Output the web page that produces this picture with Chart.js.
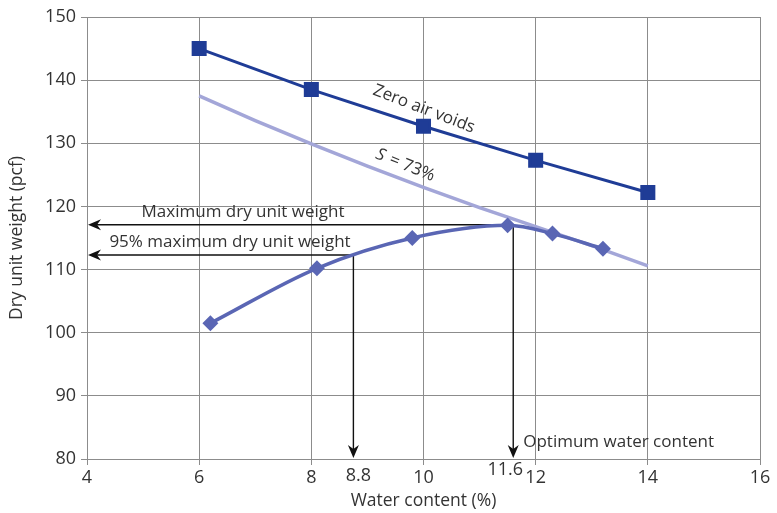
<!DOCTYPE html>
<html>
<head>
<meta charset="utf-8">
<script src="https://cdn.jsdelivr.net/npm/chart.js@4.4.1/dist/chart.umd.min.js"></script>
<style>
  html, body { margin: 0; padding: 0; background: #fff; }
  #wrap { width: 777px; height: 513px; }
</style>
</head>
<body>
<div id="wrap"><canvas id="compactionChart" width="777" height="513"></canvas></div>
<script>
// values
const zeroAirWater = [6, 8, 10, 12, 14];
const zeroAirWeight = [145.0, 138.5, 132.7, 127.3, 122.2];

const satWater = [6, 7, 8, 9, 10, 11, 12, 13, 14];
const satWeight = [137.5, 133.6, 129.9, 126.4, 123.0, 119.8, 116.8, 113.8, 110.6];

const testWater = [6.2, 8.1, 9.8, 11.5, 12.3, 13.2];
const testWeight = [101.5, 110.2, 115.0, 117.0, 115.7, 113.3];

const maxDryWeight = 117.1;
const optimumWater = 11.6;
const dry95Weight = 112.3;
const dry95Water = 8.75;

const xTicks = [4, 6, 8, 10, 12, 14, 16];
const yTicks = [80, 90, 100, 110, 120, 130, 140, 150];

const toPoints = (xs, ys) => xs.map((x, i) => ({ x: x, y: ys[i] }));

const FONT = '"Open Sans", "DejaVu Sans", sans-serif';
const TEXT = '#333333';

function arrowHead(ctx, x, y, dir) {
  // notched arrow tip at (x,y) pointing 'left' or 'down'
  ctx.save();
  ctx.translate(x, y);
  if (dir === 'down') ctx.rotate(-Math.PI / 2);
  ctx.beginPath();
  ctx.moveTo(0, 0);
  ctx.lineTo(13, -5.5);
  ctx.lineTo(9, 0);
  ctx.lineTo(13, 5.5);
  ctx.closePath();
  ctx.fillStyle = '#111';
  ctx.fill();
  ctx.restore();
}

const annotations = {
  id: 'annotations',
  beforeDatasetsDraw(chart) {
    const { ctx, scales: { x, y } } = chart;
    ctx.save();
    ctx.strokeStyle = '#111';
    ctx.lineWidth = 1.4;
    const pairs = [[optimumWater, maxDryWeight], [dry95Water, dry95Weight]];
    pairs.forEach(([w, g]) => {
      const px = x.getPixelForValue(w);
      const py = y.getPixelForValue(g);
      ctx.beginPath();
      ctx.moveTo(x.left + 6, py);
      ctx.lineTo(px, py);
      ctx.lineTo(px, y.bottom - 6);
      ctx.stroke();
      arrowHead(ctx, x.left + 1, py, 'left');
      arrowHead(ctx, px, y.bottom - 1, 'down');
    });
    ctx.restore();
  },
  afterDraw(chart) {
    const { ctx, scales: { x, y } } = chart;
    ctx.save();
    ctx.fillStyle = TEXT;
    ctx.textBaseline = 'middle';
    ctx.font = '17px ' + FONT;

    ctx.textAlign = 'center';
    ctx.fillText('Maximum dry unit weight', 243, y.getPixelForValue(maxDryWeight) - 13);
    ctx.fillText('95% maximum dry unit weight', 230, y.getPixelForValue(dry95Weight) - 13);

    ctx.textAlign = 'left';
    ctx.fillText('Optimum water content', x.getPixelForValue(optimumWater) + 10, y.bottom - 17);

    // special tick labels
    ctx.font = '18px ' + FONT;
    ctx.textAlign = 'center';
    ctx.fillText('8.8', x.getPixelForValue(dry95Water) + 5, 476);
    ctx.fillText('11.6', x.getPixelForValue(optimumWater) - 8, 470);

    // curve labels
    ctx.font = '17px ' + FONT;
    ctx.save();
    ctx.translate(424, 109);
    ctx.rotate(21 * Math.PI / 180);
    ctx.fillText('Zero air voids', 0, 0);
    ctx.restore();

    ctx.save();
    ctx.translate(410, 167);
    ctx.rotate(22 * Math.PI / 180);
    ctx.font = 'italic 17px ' + FONT;
    ctx.textAlign = 'left';
    ctx.fillText('S', -36, 0);
    ctx.font = '17px ' + FONT;
    ctx.fillText(' = 73%', -26, 0);
    ctx.restore();

    ctx.restore();
  }
};

new Chart(document.getElementById('compactionChart'), {
  type: 'scatter',
  data: {
    datasets: [
      {
        label: 'Zero air voids',
        data: toPoints(zeroAirWater, zeroAirWeight),
        showLine: true,
        borderColor: '#1f3c96',
        backgroundColor: '#1f3c96',
        borderWidth: 3,
        pointStyle: 'rect',
        pointRadius: 8.5,
        order: 1
      },
      {
        label: 'Compaction test',
        data: toPoints(testWater, testWeight),
        showLine: true,
        borderColor: '#5a66b4',
        backgroundColor: '#5a66b4',
        borderWidth: 3.5,
        pointStyle: 'rectRot',
        pointRadius: 5.5,
        cubicInterpolationMode: 'monotone',
        order: 2
      },
      {
        label: 'S = 73%',
        data: toPoints(satWater, satWeight),
        showLine: true,
        borderColor: '#a3a6d8',
        borderWidth: 3.5,
        pointRadius: 0,
        order: 3
      }
    ]
  },
  options: {
    responsive: false,
    animation: false,
    layout: { padding: { left: 0, right: 17, top: 17, bottom: 0 } },
    plugins: {
      legend: { display: false },
      tooltip: { enabled: false }
    },
    scales: {
      x: {
        type: 'linear',
        min: 4,
        max: 16,
        afterBuildTicks: (s) => { s.ticks = xTicks.map(v => ({ value: v })); },
        afterFit: (s) => { s.height = 54; },
        grid: { color: '#8c8c8c', lineWidth: 1, tickLength: 6 },
        border: { color: '#8c8c8c', width: 1 },
        ticks: { color: TEXT, font: { family: FONT, size: 18 }, padding: 2, maxRotation: 0 },
        title: { display: true, text: 'Water content (%)', color: TEXT, font: { family: FONT, size: 17.5 }, padding: { top: 0, bottom: 1 } }
      },
      y: {
        type: 'linear',
        min: 80,
        max: 150,
        afterBuildTicks: (s) => { s.ticks = yTicks.map(v => ({ value: v })); },
        afterFit: (s) => { s.width = 87; },
        grid: { color: '#8c8c8c', lineWidth: 1, tickLength: 6 },
        border: { color: '#8c8c8c', width: 1 },
        ticks: { color: TEXT, font: { family: FONT, size: 18 }, padding: 5 },
        title: { display: true, text: 'Dry unit weight (pcf)', color: TEXT, font: { family: FONT, size: 17.5 }, padding: { top: 7, bottom: 0 } }
      }
    }
  },
  plugins: [annotations]
});
</script>
</body>
</html>
